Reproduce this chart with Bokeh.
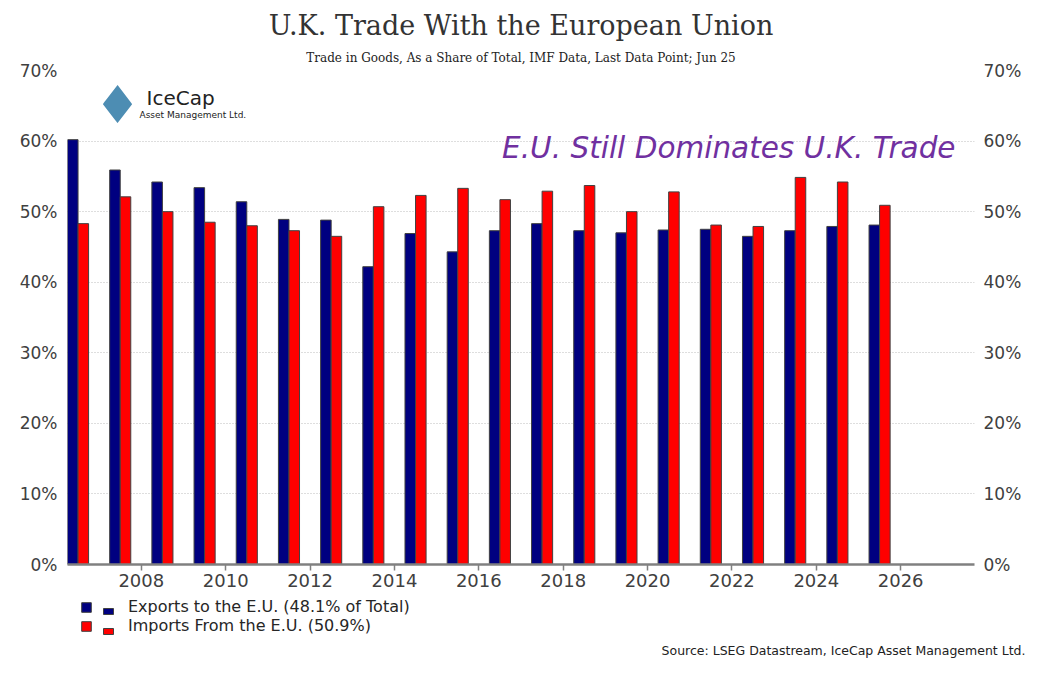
import numpy as np
from bokeh.plotting import figure
from bokeh.layouts import column
from bokeh.models import (Range1d, LinearAxis, FixedTicker, PrintfTickFormatter,
                          Label, Legend, LegendItem, Title, BoxAnnotation, ColumnDataSource)
from bokeh.embed import file_html
from bokeh.resources import INLINE

# ---- data ----
years = list(range(2006, 2026))  # annual observations, mid-year (Jun)
exports = [60.2, 55.9, 54.2, 53.4, 51.4, 48.9, 48.8, 42.2, 46.9, 44.3,
           47.3, 48.3, 47.3, 47.0, 47.4, 47.5, 46.5, 47.3, 47.9, 48.1]
imports = [48.3, 52.1, 50.0, 48.5, 48.0, 47.3, 46.5, 50.7, 52.3, 53.3,
           51.7, 52.9, 53.7, 50.0, 52.8, 48.1, 47.9, 54.85, 54.2, 50.9]
x_ticks = list(range(2008, 2027, 2))
y_ticks = [0, 10, 20, 30, 40, 50, 60, 70]

title_text = "U.K. Trade With the European Union"
subtitle_text = "Trade in Goods, As a Share of Total, IMF Data, Last Data Point; Jun 25"
note_text = "E.U. Still Dominates U.K. Trade"
source_text = "Source: LSEG Datastream, IceCap Asset Management Ltd."
export_label = "Exports to the E.U. (48.1% of Total)"
import_label = "Imports From the E.U. (50.9%)"

BLUE = "#000080"
RED = "#FF0000"
OUTLINE = "#404040"
TXT = "#404040"

W = 1035
H1 = 596
H2 = 65
bw = 0.25

yr = np.array(years, dtype=float)
src = ColumnDataSource(dict(xb=yr + 0.5 - bw / 2, xr=yr + 0.5 + bw / 2,
                            exports=exports, imports=imports))

p = figure(width=W, height=H1, output_backend="svg", toolbar_location=None,
           x_range=Range1d(2006.25, 2027.75), y_range=Range1d(0, 70),
           min_border_left=67, min_border_right=61, min_border_top=70,
           min_border_bottom=32, y_axis_location=None)
p.outline_line_color = None
p.background_fill_color = "white"
p.border_fill_color = "white"

rb = p.vbar(x="xb", top="exports", width=bw, bottom=0, source=src,
            fill_color=BLUE, line_color=OUTLINE, line_width=1)
rr = p.vbar(x="xr", top="imports", width=bw, bottom=0, source=src,
            fill_color=RED, line_color=OUTLINE, line_width=1)

# axes
xa = p.xaxis[0]
xa.ticker = FixedTicker(ticks=x_ticks)
xa.axis_line_color = "#808080"
xa.axis_line_width = 2.5
xa.major_tick_line_color = "#808080"
xa.major_tick_line_width = 1.5
xa.major_tick_out = 6
xa.major_tick_in = 0
xa.minor_tick_line_color = None
xa.major_label_text_font = "DejaVu Sans"
xa.major_label_text_font_size = "18px"
xa.major_label_text_color = TXT
xa.major_label_standoff = 3

for side in ("left", "right"):
    ax = LinearAxis(ticker=FixedTicker(ticks=y_ticks),
                    formatter=PrintfTickFormatter(format="%d%%"))
    ax.axis_line_color = None
    ax.major_tick_line_color = None
    ax.minor_tick_line_color = None
    ax.major_tick_out = 0
    ax.major_tick_in = 0
    ax.major_label_text_font = "DejaVu Sans"
    ax.major_label_text_font_size = "17px"
    ax.major_label_text_color = TXT
    ax.major_label_standoff = 10 if side == "left" else 9
    p.add_layout(ax, side)

p.xgrid.grid_line_color = None
p.ygrid.ticker = FixedTicker(ticks=y_ticks[1:])
p.ygrid.grid_line_color = "#bdbdbd"
p.ygrid.grid_line_dash = "1 2"
p.ygrid.grid_line_width = 1

# titles (first added sits closest to the frame)
p.add_layout(Title(text=subtitle_text, align="center", text_font="DejaVu Serif",
                   text_font_size="12px", text_font_style="normal",
                   text_color="#222222", standoff=12), "above")
p.add_layout(Title(text=title_text, align="center", text_font="DejaVu Serif",
                   text_font_size="27px", text_font_style="normal",
                   text_color="#333333", standoff=4), "above")

# note inside the plot
p.add_layout(Label(x=888, y=417, x_units="screen", y_units="screen", text=note_text,
                   text_font="DejaVu Sans", text_font_style="italic", text_font_size="29.5px",
                   text_color="#7030A0", text_align="right", text_baseline="middle"))

# logo
p.add_layout(Label(x=50, y=460, x_units="screen", y_units="screen", text="\u2666",
                   text_font="DejaVu Sans", text_font_size="52px", text_color="#4d8db3",
                   text_align="center", text_baseline="middle"))
p.add_layout(Label(x=79, y=467, x_units="screen", y_units="screen", text="IceCap",
                   text_font="DejaVu Sans", text_font_size="20px", text_color="#222222",
                   text_align="left", text_baseline="middle"))
p.add_layout(Label(x=72, y=449.5, x_units="screen", y_units="screen", text="Asset Management Ltd.",
                   text_font="DejaVu Sans", text_font_size="9px", text_color="#222222",
                   text_align="left", text_baseline="middle"))

# ---- footer panel: legend and source ----
p2 = figure(width=W, height=H2, output_backend="svg", toolbar_location=None,
            x_range=Range1d(2006.25, 2027.75), y_range=Range1d(0, 70), min_border=0,
            min_border_bottom=25, x_axis_location=None, y_axis_location=None)
p2.outline_line_color = None
p2.grid.grid_line_color = None
p2.background_fill_color = "white"
p2.border_fill_color = "white"
# hidden renderers on the same data: they only supply the legend keys' styling
kb = p2.vbar(x="xb", top="exports", width=bw, bottom=0, source=src,
             fill_color=BLUE, line_color=OUTLINE, line_width=1, visible=False)
kr = p2.vbar(x="xr", top="imports", width=bw, bottom=0, source=src,
             fill_color=RED, line_color=OUTLINE, line_width=1, visible=False)

legend = Legend(items=[LegendItem(label=export_label, renderers=[kb], index=0),
                       LegendItem(label=import_label, renderers=[kr], index=0)],
                location=(13, 1), orientation="vertical",
                glyph_width=12, glyph_height=12, label_standoff=36,
                label_text_font="DejaVu Sans", label_text_font_size="16px",
                label_text_color="#262626", label_height=17, spacing=0,
                padding=0, margin=0, border_line_color=None,
                background_fill_alpha=0, inactive_fill_alpha=0,
                click_policy="none")
p2.add_layout(legend, "center")

# second, smaller key squares (Excel-style legend keys)
for top, col in ((28, BLUE), (8, RED)):
    p2.add_layout(BoxAnnotation(left=36, right=46, top=top, bottom=top - 6,
                                left_units="screen", right_units="screen",
                                top_units="screen", bottom_units="screen",
                                fill_color=col, fill_alpha=1, line_color=OUTLINE,
                                line_width=1, line_alpha=1))

p2.add_layout(Title(text=source_text, align="right", offset=-51, text_font="DejaVu Sans",
                    text_font_size="12.5px", text_font_style="normal",
                    text_color="#222222", standoff=8), "below")

open("out.html", "w").write(file_html(column(p, p2, spacing=0), INLINE))
